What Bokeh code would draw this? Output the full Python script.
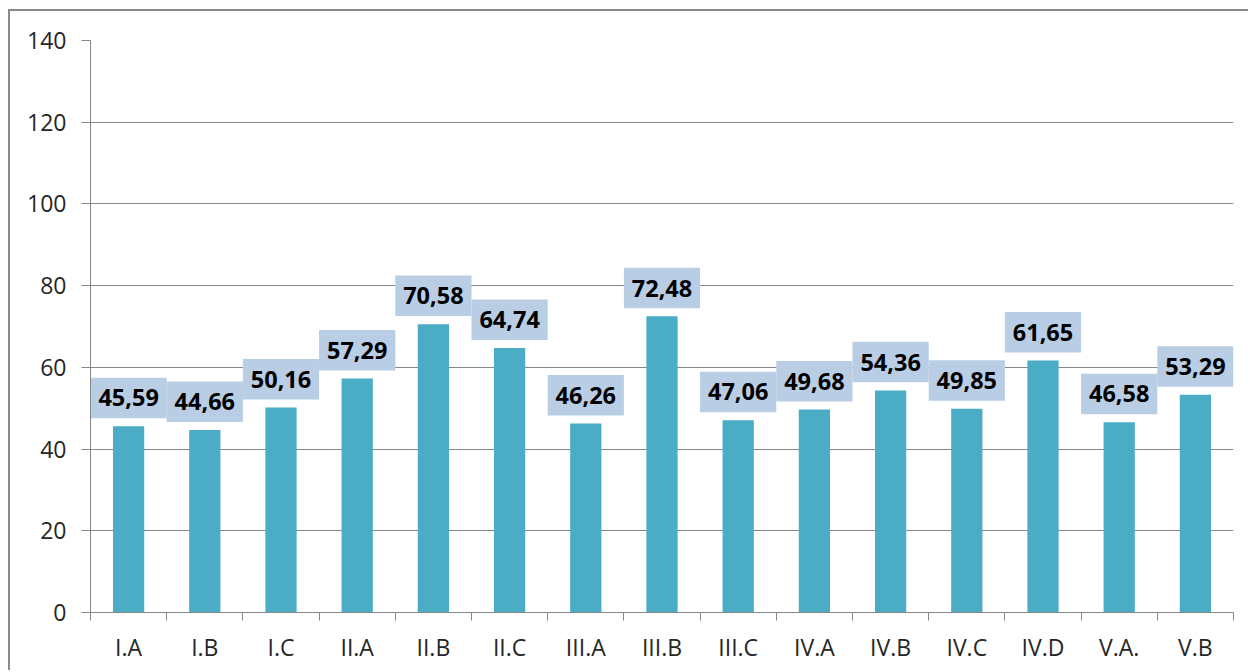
from bokeh.plotting import figure
from bokeh.models import FixedTicker, Range1d, ColumnDataSource, LabelSet
from bokeh.core.properties import value
from bokeh.embed import file_html
from bokeh.resources import INLINE

categories = ["I.A", "I.B", "I.C", "II.A", "II.B", "II.C", "III.A", "III.B", "III.C",
              "IV.A", "IV.B", "IV.C", "IV.D", "V.A.", "V.B"]
values = [45.59, 44.66, 50.16, 57.29, 70.58, 64.74, 46.26, 72.48, 47.06,
          49.68, 54.36, 49.85, 61.65, 46.58, 53.29]
y_ticks = [0, 20, 40, 60, 80, 100, 120, 140]

BAR = "#4BACC6"
BOX = "#B9CDE5"
GRID = "#868686"
TXT = "#262626"
FONT = "Open Sans"

n = len(categories)
xs = [i + 0.5 for i in range(n)]
labels = [f"{v:.2f}".replace(".", ",") for v in values]

Y_MAX = 140
FRAME_H = 572
px = Y_MAX / FRAME_H  # data units per pixel
box_center = [v + 28.3 * px for v in values]

src = ColumnDataSource(dict(x=xs, top=values, box_y=box_center, label=labels))

p = figure(width=1240, height=661, output_backend="svg", toolbar_location=None,
           x_range=Range1d(0, n), y_range=Range1d(0, Y_MAX),
           min_border_left=80, min_border_right=17, min_border_top=29, min_border_bottom=60)
p.styles = {"border-left": "2px solid #8a8a8a", "border-top": "2px solid #8a8a8a",
            "margin-left": "8px", "margin-top": "9px"}
p.outline_line_color = None
p.background_fill_color = "white"
p.border_fill_color = "white"

p.vbar(x="x", top="top", width=0.41, bottom=0, source=src, color=BAR, line_color=None)
p.rect(x="x", y="box_y", width=1.0, height=40.5, height_units="screen", source=src,
       fill_color=BOX, line_color=None)
lbl = LabelSet(x="x", y="top", text="label", source=src, y_offset=28.3,
               text_align="center", text_baseline="middle",
               text_font=value(FONT), text_font_size=value("23.5px"),
               text_font_style="bold", text_color="#000000")
p.add_layout(lbl)

# y axis
p.yaxis.ticker = FixedTicker(ticks=y_ticks)
p.yaxis.axis_line_color = GRID
p.yaxis.major_tick_line_color = GRID
p.yaxis.major_tick_out = 9
p.yaxis.major_tick_in = 0
p.yaxis.minor_tick_line_color = None
p.yaxis.major_label_text_font = FONT
p.yaxis.major_label_text_font_size = "23px"
p.yaxis.major_label_text_color = TXT
p.yaxis.major_label_standoff = 15

# x axis: labels at centers, ticks at boundaries
p.xaxis.ticker = FixedTicker(ticks=xs, minor_ticks=list(range(n + 1)))
p.xaxis.major_label_overrides = {x: c for x, c in zip(xs, categories)}
p.xaxis.axis_line_color = GRID
p.xaxis.major_tick_line_color = None
p.xaxis.major_tick_out = 0
p.xaxis.major_tick_in = 0
p.xaxis.minor_tick_line_color = GRID
p.xaxis.minor_tick_out = 8
p.xaxis.minor_tick_in = 0
p.xaxis.major_label_text_font = FONT
p.xaxis.major_label_text_font_size = "23px"
p.xaxis.major_label_text_color = TXT
p.xaxis.major_label_standoff = 10

p.xgrid.grid_line_color = None
p.ygrid.ticker = FixedTicker(ticks=y_ticks)
p.ygrid.grid_line_color = GRID
p.ygrid.grid_line_width = 1

open("out.html", "w").write(file_html(p, INLINE))
